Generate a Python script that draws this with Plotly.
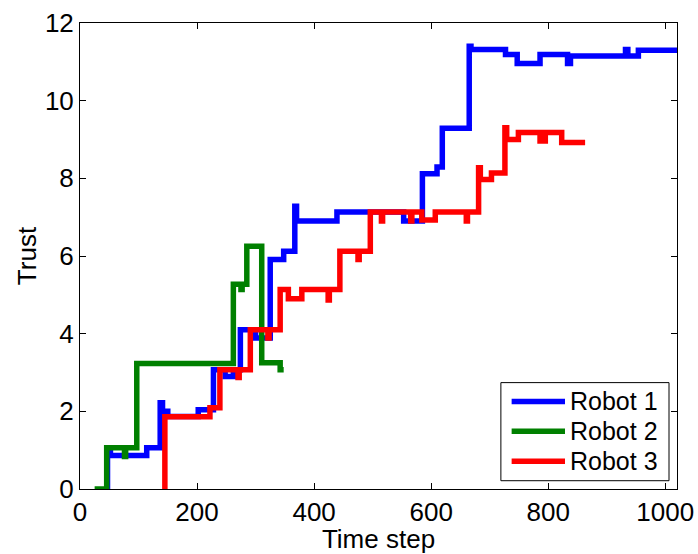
import plotly.graph_objects as go

# Trust level of each robot over time, stored as change points:
# each value holds from its time step until the next one.
robot1_t = [44, 47, 52, 114, 137, 141, 150, 202, 228, 248, 262, 274, 300, 325, 348, 367, 370,
            439, 553, 585, 610, 619, 665, 668, 727, 747, 786, 833, 838, 932, 936, 954, 1020]
robot1_v = [0, 1.06, 0.86, 1.06, 2.22, 2.0, 1.87, 2.04, 3.07, 2.9, 3.07, 4.1, 3.89, 5.91, 6.12, 7.28, 6.9,
            7.13, 6.9, 8.12, 8.29, 9.29, 11.4, 11.32, 11.19, 10.96, 11.19, 10.96, 11.15, 11.32, 11.15, 11.3, 11.3]

robot2_t = [25, 45.6, 76, 78, 97, 262, 275, 277, 285, 310.5, 342, 348]
robot2_v = [0, 1.06, 0.84, 1.06, 3.23, 5.27, 5.14, 5.27, 6.25, 3.25, 3.07, 3.07]

robot3_t = [145, 145, 222, 239, 270, 272, 291, 321, 323, 342, 356, 379, 424, 426, 444, 475, 477,
            496, 515, 517, 565, 567, 584, 607, 660, 662, 681, 684, 703, 726, 729, 749, 786, 795, 823, 863]
robot3_v = [0, 1.86, 2.09, 3.07, 2.87, 3.07, 4.1, 3.89, 4.1, 5.14, 4.9, 5.14, 4.87, 5.14, 6.12, 5.91, 6.12,
            7.13, 6.9, 7.13, 6.9, 7.13, 6.93, 7.13, 6.9, 7.13, 8.27, 7.97, 8.14, 9.3, 9.0, 9.18, 8.96, 9.18, 8.92, 8.92]

names = ["Robot 1", "Robot 2", "Robot 3"]
colors = ["#0000FF", "#008000", "#FF0000"]
series = [(robot1_t, robot1_v), (robot2_t, robot2_v), (robot3_t, robot3_v)]

x_ticks = [0, 200, 400, 600, 800, 1000]
y_ticks = [0, 2, 4, 6, 8, 10, 12]

FONT = "Liberation Sans, Arial, Helvetica, sans-serif"
FS = 26

fig = go.Figure()
for (t, v), name, color in zip(series, names, colors):
    fig.add_trace(go.Scatter(
        x=t, y=v, name=name, mode="lines",
        line=dict(color=color, width=5.5, shape="hv"),
        showlegend=False,
    ))

# Boxed legend in the lower-right corner of the axes
lx0, lx1, ly0, ly1 = 0.705, 0.9866, 0.0178, 0.2283
fig.add_shape(type="rect", xref="paper", yref="paper", x0=lx0, x1=lx1, y0=ly0, y1=ly1,
              line=dict(color="black", width=1), fillcolor="white", layer="above")
entry_y = [0.188, 0.1237, 0.0593]
for name, color, ey in zip(names, colors, entry_y):
    fig.add_shape(type="line", xref="paper", yref="paper", x0=0.723, x1=0.8124, y0=ey, y1=ey,
                  line=dict(color=color, width=5.5), layer="above")
    fig.add_annotation(xref="paper", yref="paper", x=0.818, y=ey, text=name, showarrow=False,
                       xanchor="left", yanchor="middle", font=dict(family=FONT, size=25, color="black"))

axis_common = dict(
    showline=True, linecolor="black", linewidth=1, mirror="allticks",
    ticks="inside", ticklen=6, tickcolor="black", showgrid=False, zeroline=False,
    ticklabeloverflow="allow",
    tickfont=dict(family=FONT, size=FS, color="black"),
)
fig.update_xaxes(range=[0, 1020], tickvals=x_ticks, ticktext=[str(v) for v in x_ticks],
                 title=dict(text="Time step", font=dict(family=FONT, size=FS, color="black"), standoff=0),
                 **axis_common)
fig.update_yaxes(range=[0, 12], tickvals=y_ticks, ticktext=[str(v) for v in y_ticks],
                 title=dict(text="Trust", font=dict(family=FONT, size=FS, color="black"), standoff=0),
                 **axis_common)

fig.update_layout(
    width=698, height=554,
    margin=dict(l=80, r=21, t=23, b=65, autoexpand=False),
    paper_bgcolor="white", plot_bgcolor="white",
    font=dict(family=FONT, size=FS, color="black"),
)

fig.write_html("out.html")
